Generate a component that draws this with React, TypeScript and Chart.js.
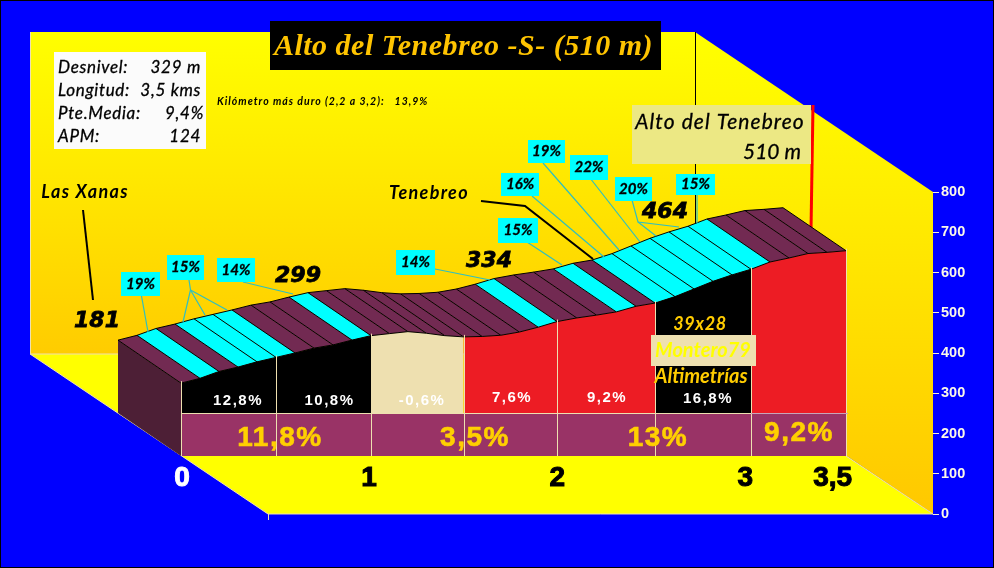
import React, { useEffect, useRef } from "react";
import { Chart, registerables } from "chart.js";

Chart.register(...registerables);

// ---------- data ----------
const distanceKm = [
  0, 0.1, 0.2, 0.3, 0.4, 0.5, 0.6, 0.7, 0.8, 0.9, 1.0,
  1.097, 1.194, 1.291, 1.388, 1.487, 1.585, 1.683, 1.781, 1.88, 1.979,
  2.083, 2.187, 2.291, 2.395, 2.495, 2.6, 2.7, 2.8, 2.9, 3.0,
  3.1, 3.2, 3.3, 3.4, 3.5,
];
const altitudeM = [
  181, 193, 210, 221, 234, 245, 256, 268, 276, 288, 299,
  304, 309, 305, 299, 296, 297, 300, 308, 320, 334,
  343, 350, 358, 372, 380, 396, 415, 434, 450, 464,
  482, 492, 503, 506, 510,
];
// indexes of the 100 m stripes steeper than 14 %
const steepStripes = [1, 3, 4, 5, 9, 19, 23, 25, 26, 27, 28, 29, 30];
// half-kilometre sections: index of first / last profile point
const sectionStart = [0, 5, 10, 15, 20, 25, 30];
const sectionEnd = [5, 10, 15, 20, 25, 30, 35];
const sectionColor = ["#000000", "#000000", "#eee0b0", "#ed1c24", "#ed1c24", "#000000", "#ed1c24"];
const sectionSlope = ["12,8%", "10,8%", "-0,6%", "7,6%", "9,2%", "16,8%"];
const kmSlope = ["11,8%", "3,5%", "13%", "9,2%"];
const xTickLabels = ["0", "1", "2", "3", "3,5"];
const xTickKm = [0.005, 0.99, 1.98, 2.97, 3.43];
const yTickValues = [0, 100, 200, 300, 400, 500, 600, 700, 800];
const stripeLabels = ["19%", "15%", "14%", "14%", "15%", "16%", "19%", "22%", "20%", "15%"];
const peakLabels = ["181", "299", "334", "464"];
const infoLabels = ["Desnivel:", "Longitud:", "Pte.Media:", "APM:"];
const infoValues = ["329 m", "3,5 kms", "9,4%", "124"];
const bandTopValue = 107;

// ---------- layout of the drawing ----------
const BLUE = "#0000ff";
const CREAM = "#eee0b0";
const GOLD = "#ffcc00";
const CYAN = "#00ffff";
const LEADER = "#2fbfc0";
const KM_PX = 190;
const VALUE_PX = 0.4025;
const AREA = { left: 30, top: 32, right: 933, bottom: 514 };
const FRONT_ZERO = 456;
const DEPTH = { km: 63 / KM_PX, value: 43 / VALUE_PX };
const WALL = { dx: 238, dy: 160 };

const slopePos = [[238, 401], [329.5, 401], [422, 401], [512, 398], [607, 398], [708, 399]];
const kmSlopePos = [[280, 438], [475, 438], [658, 438], [799, 433]];
const peakPos = [[97, 321], [298, 276], [489, 261], [665, 212]];
const infoY = [67.5, 90.5, 113.5, 136.5];
const infoValueRight = [201, 201, 204, 201];
const stripeBoxes = [
  [121, 272, 39, 24], [167, 255, 37, 25], [217, 258, 38, 24], [396, 250, 39, 25], [498, 218, 40, 25],
  [501, 173, 38, 23], [528, 140, 37, 23], [570, 155, 38, 25], [615, 177, 37, 24], [676, 174, 39, 21],
];
const leaderLines = [
  [[141.5, 296], [148, 332]],
  [[189, 280], [190.5, 290], [183, 322]],
  [[190.5, 290], [205, 315]],
  [[190.5, 290], [227, 310]],
  [[243, 282], [293, 294]],
  [[435, 269], [490, 280]],
  [[527, 242], [562, 265]],
  [[532, 196], [604, 257]],
  [[543, 163], [619, 250]],
  [[590, 178], [640, 242]],
  [[632, 200], [638, 222], [679, 227]],
  [[638, 222], [656, 236]],
  [[697, 195], [697, 223]],
];

const path = (ctx: CanvasRenderingContext2D, pts: number[][]) => {
  ctx.beginPath();
  pts.forEach((p, i) => (i ? ctx.lineTo(p[0], p[1]) : ctx.moveTo(p[0], p[1])));
};
const poly = (ctx: CanvasRenderingContext2D, pts: number[][], fill: string | CanvasGradient) => {
  path(ctx, pts);
  ctx.closePath();
  ctx.fillStyle = fill;
  ctx.fill();
};
const stroke = (ctx: CanvasRenderingContext2D, pts: number[][], color: string, width = 1) => {
  path(ctx, pts);
  ctx.strokeStyle = color;
  ctx.lineWidth = width;
  ctx.stroke();
};
const text = (
  ctx: CanvasRenderingContext2D,
  s: string,
  x: number,
  y: number,
  font: string,
  color: string,
  align: CanvasTextAlign = "center",
  spacing = "0px",
  heavy = 0,
) => {
  ctx.font = font;
  ctx.fillStyle = color;
  ctx.textAlign = align;
  ctx.textBaseline = "middle";
  (ctx as any).letterSpacing = spacing;
  ctx.fillText(s, x, y);
  if (heavy) {
    ctx.strokeStyle = color;
    ctx.lineWidth = heavy;
    ctx.strokeText(s, x, y);
  }
  (ctx as any).letterSpacing = "0px";
};

const backdropPlugin = {
  id: "backdrop",
  beforeDatasetsDraw(chart: any) {
    const { ctx, scales } = chart;
    const { x, y, yAxis } = scales;
    const project = (km: number, alt: number, depth: number) => [
      x.getPixelForValue(km - depth * DEPTH.km),
      y.getPixelForValue(alt + depth * DEPTH.value),
    ];
    const R = x.getPixelForValue(x.max);
    const L = x.getPixelForValue(x.min);
    const B = yAxis.getPixelForValue(0);
    const T800 = yAxis.getPixelForValue(800);
    const T = T800 - WALL.dy;
    const backR = R - WALL.dx;
    const backB = B - WALL.dy;
    ctx.save();
    // floor
    poly(ctx, [[L, backB], [backR, backB], [R, B], [L + WALL.dx, B]], "#ffff00");
    // back wall
    const g = ctx.createLinearGradient(0, T, 0, backB);
    g.addColorStop(0, "#ffff00");
    g.addColorStop(1, "#ffcc00");
    poly(ctx, [[L, T], [backR, T], [backR, backB], [L, backB]], g);
    // side wall
    const g2 = ctx.createLinearGradient(0, T, 0, B);
    g2.addColorStop(0, "#ffff00");
    g2.addColorStop(0.3, "#fff000");
    g2.addColorStop(1, "#ffc800");
    poly(ctx, [[backR, T], [R, T800], [R, B], [backR, backB]], g2);
    stroke(ctx, [[backR + 0.5, T], [backR + 0.5, backB]], "#000000");
    stroke(ctx, [[L + 0.5, T], [L + 0.5, backB], [backR, backB]], CREAM);
    stroke(ctx, [[L, backB], [L + WALL.dx, B], [R, B]], CREAM);
    stroke(ctx, [[L + WALL.dx + 0.5, B], [L + WALL.dx + 0.5, B + 6]], CREAM);
    stroke(ctx, [[R, B], [x.getPixelForValue(3.5), FRONT_ZERO]], CREAM);
    // summit mast, behind the road
    stroke(ctx, [[813, 105], [811, 230]], "#ff0000", 3);
    // left end of the road
    const n = distanceKm.length - 1;
    poly(ctx, [project(0, altitudeM[0], 0), project(0, altitudeM[0], 1), project(0, 0, 1), project(0, 0, 0)], "#4d1f36");
    // road surface, one stripe per 100 m
    for (let i = 0; i < n; i++) {
      const a = [distanceKm[i], altitudeM[i]];
      const b = [distanceKm[i + 1], altitudeM[i + 1]];
      poly(
        ctx,
        [project(a[0], a[1], 0), project(b[0], b[1], 0), project(b[0], b[1], 1), project(a[0], a[1], 1)],
        steepStripes.includes(i) ? CYAN : "#722a52",
      );
    }
    for (let i = 0; i <= n; i++) {
      stroke(ctx, [project(distanceKm[i], altitudeM[i], 0), project(distanceKm[i], altitudeM[i], 1)], "#000000", 1);
    }
    stroke(ctx, distanceKm.map((d, i) => project(d, altitudeM[i], 1)), "#000000", 1);
    ctx.restore();
  },
  afterDatasetsDraw(chart: any) {
    const { ctx, scales } = chart;
    const { x, y } = scales;
    ctx.save();
    // section grid on the front face
    const bandY = Math.round(y.getPixelForValue(bandTopValue)) + 0.5;
    const zeroY = y.getPixelForValue(0);
    sectionStart.concat(distanceKm.length - 1).forEach((idx) => {
      const px = Math.round(x.getPixelForValue(distanceKm[idx])) + 0.5;
      stroke(ctx, [[px, y.getPixelForValue(altitudeM[idx]) - 2], [px, zeroY]], CREAM);
    });
    const km3 = x.getPixelForValue(distanceKm[30]);
    stroke(ctx, [[x.getPixelForValue(0), bandY], [km3, bandY]], CREAM);
    stroke(ctx, [[km3, bandY], [x.getPixelForValue(3.5) + 2, bandY]], "#c8a4b8");
    // leaders
    leaderLines.forEach((l) => stroke(ctx, l, LEADER, 1.2));
    // callout lines
    stroke(ctx, [[83, 210], [93, 300]], "#000000", 2);
    stroke(ctx, [[481, 201], [525, 206], [593, 259]], "#000000", 2);
    // slope labels on the front
    sectionSlope.forEach((s, i) => text(ctx, s, slopePos[i][0], slopePos[i][1], "bold 15px 'Liberation Sans'", "#ffffff", "center", "1.5px"));
    kmSlope.forEach((s, i) => text(ctx, s, kmSlopePos[i][0], kmSlopePos[i][1], "bold 28px 'Liberation Sans'", "#ffd000", "center", "1.5px", 0.6));
    // stripe slope tags
    stripeLabels.forEach((s, i) => {
      const [bx, by, bw, bh] = stripeBoxes[i];
      ctx.fillStyle = CYAN;
      ctx.fillRect(bx, by, bw, bh);
      text(ctx, s, bx + bw / 2, by + bh / 2, "italic bold 15px Lato", "#000000", "center", "0px", 0.3);
    });
    // peak altitudes
    peakLabels.forEach((s, i) => text(ctx, s, peakPos[i][0], peakPos[i][1], "italic bold 22px 'DejaVu Sans'", "#000000", "center", "0px", 0.8));
    text(ctx, "Las Xanas", 85, 192, "italic bold 18px Lato", "#000000", "center", "1.3px");
    text(ctx, "Tenebreo", 429, 193, "italic bold 18px Lato", "#000000", "center", "1.3px");
    // title
    ctx.fillStyle = "#000000";
    ctx.fillRect(270, 21, 391, 49);
    text(ctx, "Alto del Tenebreo -S- (510 m)", 463.5, 47, "italic bold 30px 'Liberation Serif'", "#ffc400", "center", "0.5px");
    // info box
    ctx.fillStyle = "#fbfbfb";
    ctx.fillRect(54, 52, 152, 97);
    infoLabels.forEach((s, i) => {
      text(ctx, s, 58, infoY[i], "italic 17px Lato", "#000000", "left", "0.7px", 0.3);
      text(ctx, infoValues[i], infoValueRight[i], infoY[i], "italic 17px Lato", "#000000", "right", "0.7px", 0.3);
    });
    text(ctx, "Kilómetro más duro (2,2 a 3,2):   13,9%", 217, 102, "italic bold 10.5px Lato", "#000000", "left", "1px");
    // summit box
    ctx.fillStyle = "#ece884";
    ctx.fillRect(632, 105, 179, 59);
    text(ctx, "Alto del Tenebreo", 720, 122.5, "italic 21px Lato", "#000000", "center", "1.1px", 0.3);
    text(ctx, "510 m", 772, 152, "italic 21px Lato", "#000000", "center", "0px", 0.3);
    // signature
    text(ctx, "39x28", 700, 324, "italic bold 18px Lato", GOLD, "center", "0.6px");
    ctx.fillStyle = CREAM;
    ctx.fillRect(651, 335, 105, 31);
    text(ctx, "Montero79", 703, 351, "italic bold 20px Lato", "#ffff00");
    text(ctx, "Altimetrías", 701, 377, "italic bold 20px Lato", GOLD);
    ctx.restore();
  },
};

export default function App() {
  const ref = useRef<HTMLCanvasElement | null>(null);
  useEffect(() => {
    document.body.style.margin = "0";
    const sections = sectionStart.map((start, i) => ({
      label: `section ${i + 1}`,
      data: distanceKm
        .map((d, j) => ({ x: d, y: altitudeM[j] }))
        .slice(start, sectionEnd[i] + 1),
      borderColor: "#000000",
      borderWidth: 1,
      backgroundColor: sectionColor[i],
      fill: { value: 0 },
      pointRadius: 0,
      tension: 0,
    }));
    const band = {
      label: "band",
      data: [
        { x: distanceKm[0], y: bandTopValue },
        { x: distanceKm[distanceKm.length - 1], y: bandTopValue },
      ],
      borderWidth: 0,
      borderColor: "transparent",
      backgroundColor: "#993366",
      fill: { value: 0 },
      pointRadius: 0,
      tension: 0,
    };
    const tickColor = (c: any) => (c.index === 0 ? "#ffffff" : "#000000");
    const chart = new Chart(ref.current as HTMLCanvasElement, {
      type: "line",
      data: { datasets: [band, ...sections] as any },
      plugins: [backdropPlugin as any],
      options: {
        animation: false,
        responsive: false,
        devicePixelRatio: 1,
        layout: { padding: { left: AREA.left, top: AREA.top, bottom: 568 - AREA.bottom, right: 0 } },
        plugins: { legend: { display: false }, tooltip: { enabled: false }, title: { display: false } },
        scales: {
          x: {
            type: "linear",
            min: (AREA.left - 181) / KM_PX,
            max: (AREA.right - 181) / KM_PX,
            position: { y: 0 } as any,
            grid: { display: false },
            border: { display: false },
            afterBuildTicks: (s: any) => {
              s.ticks = xTickKm.map((value) => ({ value }));
            },
            afterFit: (s: any) => {
              s.height = 0;
            },
            ticks: {
              z: 2,
              autoSkip: false,
              maxRotation: 0,
              padding: -3,
              font: { family: "'Liberation Sans'", weight: "bold", size: 28 },
              color: tickColor,
              textStrokeColor: tickColor,
              textStrokeWidth: 1,
              callback: (_v: any, i: number) => xTickLabels[i],
            },
          },
          y: {
            display: false,
            min: (FRONT_ZERO - AREA.bottom) / VALUE_PX,
            max: (FRONT_ZERO - AREA.top) / VALUE_PX,
          },
          yAxis: {
            type: "linear",
            position: "right",
            min: 0,
            max: (AREA.bottom - AREA.top) / VALUE_PX,
            afterBuildTicks: (s: any) => {
              s.ticks = yTickValues.map((value) => ({ value }));
            },
            afterFit: (s: any) => {
              s.width = 994 - AREA.right;
            },
            border: { display: false },
            grid: { drawOnChartArea: false, drawTicks: true, tickLength: 6, color: "#f4efd8", lineWidth: 1 },
            ticks: {
              padding: 2,
              autoSkip: false,
              color: "#fbf8e8",
              font: { family: "'Liberation Sans'", weight: "bold", size: 14.5 },
              callback: (v: any) => String(v),
            },
          },
        },
      } as any,
    });
    return () => chart.destroy();
  }, []);
  return (
    <div style={{ position: "fixed", left: 0, top: 0, width: 994, height: 568, background: BLUE, boxSizing: "border-box", overflow: "hidden", outline: "1px solid #000", outlineOffset: -1 }}>
      <canvas ref={ref} width={994} height={568} style={{ display: "block" }} />
    </div>
  );
}
